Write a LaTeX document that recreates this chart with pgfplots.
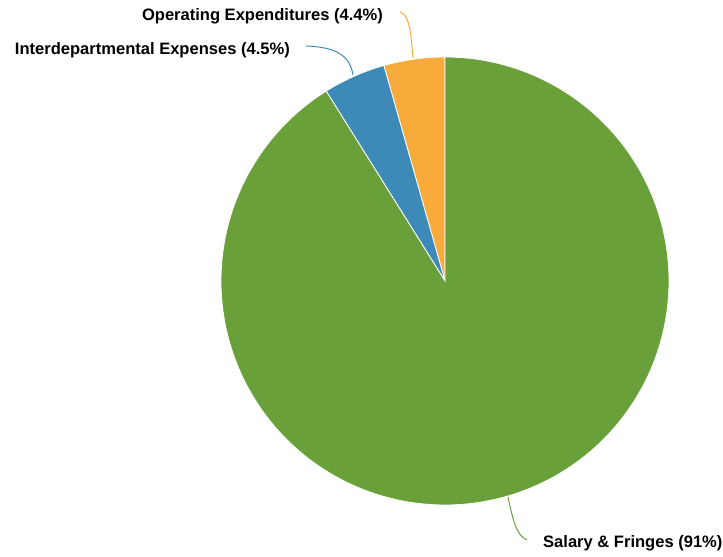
\documentclass[border=0pt]{standalone}
\usepackage{fontspec}
\setmainfont{Liberation Sans}
\usepackage{pgfplots}
\pgfplotsset{compat=1.18}
\definecolor{cgreen}{HTML}{69A03A}
\definecolor{cblue}{HTML}{3D89B7}
\definecolor{corange}{HTML}{F8AA3A}
\begin{document}
\begin{tikzpicture}
% shares (percent)
\def\vOper{4.4}
\def\vInter{4.5}
\def\vSal{91.1}
\pgfmathsetmacro{\aA}{90}
\pgfmathsetmacro{\aB}{90+\vOper*3.6}
\pgfmathsetmacro{\aC}{\aB+\vInter*3.6}
\pgfmathsetmacro{\aD}{450}
\begin{axis}[
  width=723bp, height=557bp, scale only axis,
  xmin=0, xmax=723, ymin=-557, ymax=0,
  hide axis, clip=false,
]
\path (axis cs:0,0) rectangle (axis cs:723,-557);
\addplot[fill=corange, draw=white, line width=0.8pt, domain=\aA:\aB, samples=30, variable=\t]
  ({445+224*cos(t)}, {-281+224*sin(t)}) -- (axis cs:445,-281) -- cycle;
\addplot[fill=cblue, draw=white, line width=0.8pt, domain=\aB:\aC, samples=30, variable=\t]
  ({445+224*cos(t)}, {-281+224*sin(t)}) -- (axis cs:445,-281) -- cycle;
\addplot[fill=cgreen, draw=white, line width=0.8pt, domain=\aC:\aD, samples=300, variable=\t]
  ({445+224*cos(t)}, {-281+224*sin(t)}) -- (axis cs:445,-281) -- cycle;
% leader lines
\draw[corange, line width=1pt] (axis cs:413,-58) .. controls (axis cs:411,-35) and (axis cs:410,-15) .. (axis cs:400,-12);
\draw[cblue, line width=1pt] (axis cs:353,-75) .. controls (axis cs:350,-55) and (axis cs:335,-47) .. (axis cs:306,-46);
\draw[cgreen, line width=1pt] (axis cs:508,-497) .. controls (axis cs:513,-520) and (axis cs:516,-535) .. (axis cs:527,-540);
% labels
\node[anchor=east, inner sep=0pt, font=\bfseries\fontsize{16.6}{19}\selectfont] at (axis cs:383,-16) {Operating Expenditures (4.4\%)};
\node[anchor=east, inner sep=0pt, font=\bfseries\fontsize{16.6}{19}\selectfont] at (axis cs:290,-50) {Interdepartmental Expenses (4.5\%)};
\node[anchor=west, inner sep=0pt, font=\bfseries\fontsize{16.6}{19}\selectfont] at (axis cs:543,-543) {Salary \& Fringes (91\%)};
\end{axis}
\useasboundingbox (current axis.south west) rectangle (current axis.north east);
\end{tikzpicture}
\end{document}
